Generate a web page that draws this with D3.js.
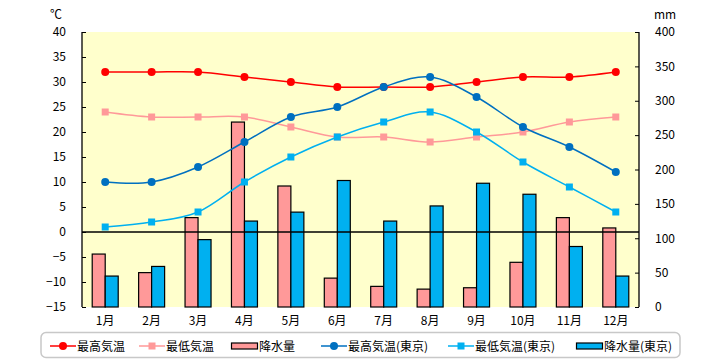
<!DOCTYPE html>
<html>
<head>
<meta charset="utf-8">
<script src="https://cdn.jsdelivr.net/npm/d3@7"></script>
<style>
  html, body { margin: 0; padding: 0; background: #ffffff; }
  svg { display: block; }
  text { font-family: "Noto Sans CJK JP", "DejaVu Sans", sans-serif; font-size: 12px; fill: #000; }
</style>
</head>
<body>
<svg id="chart" width="720" height="360"></svg>
<script>
const months = ["1月","2月","3月","4月","5月","6月","7月","8月","9月","10月","11月","12月"];
const maxTemp = [32, 32, 32, 31, 30, 29, 29, 29, 30, 31, 31, 32];
const minTemp = [24, 23, 23, 23, 21, 19, 19, 18, 19, 20, 22, 23];
const precip = [77, 50, 130, 269, 176, 42, 30, 26, 28, 65, 130, 115];
const maxTempTokyo = [10, 10, 13, 18, 23, 25, 29, 31, 27, 21, 17, 12];
const minTempTokyo = [1, 2, 4, 10, 15, 19, 22, 24, 20, 14, 9, 4];
const precipTokyo = [45, 59, 98, 125, 138, 184, 125, 147, 180, 164, 88, 45];
const tempTicks = [-15, -10, -5, 0, 5, 10, 15, 20, 25, 30, 35, 40];
const precipTicks = [0, 50, 100, 150, 200, 250, 300, 350, 400];
const legendLabels = ["最高気温", "最低気温", "降水量", "最高気温(東京)", "最低気温(東京)", "降水量(東京)"];

const svg = d3.select("#chart");
const L = 82, R = 639, T = 32, B = 307;

const x = d3.scaleBand().domain(months).range([L, R]).paddingInner(0.44).paddingOuter(0.22);
const xc = d => x(d) + x.bandwidth() / 2;
const x1 = d3.scaleBand().domain(["local", "tokyo"]).range([0, x.bandwidth()]);
const yT = d3.scaleLinear().domain([-15, 40]).range([B, T]);
const yP = d3.scaleLinear().domain([0, 400]).range([B, T]);

// plot background
svg.append("rect").attr("x", L).attr("y", T).attr("width", R - L).attr("height", B - T).attr("fill", "#ffffcc");

// bars
const barData = [
  { key: "local", vals: precip, color: "#ff9999" },
  { key: "tokyo", vals: precipTokyo, color: "#00b0f0" }
];
barData.forEach(s => {
  svg.append("g").selectAll("rect").data(months).join("rect")
    .attr("x", (m) => x(m) + x1(s.key))
    .attr("y", (m, i) => yP(s.vals[i]))
    .attr("width", x1.bandwidth())
    .attr("height", (m, i) => yP(0) - yP(s.vals[i]))
    .attr("fill", s.color)
    .attr("stroke", "#000")
    .attr("stroke-width", 1.2);
});

// zero line
svg.append("line").attr("x1", L).attr("x2", R).attr("y1", yT(0)).attr("y2", yT(0))
  .attr("stroke", "#000").attr("stroke-width", 1.3);

// lines
const lineSeries = [
  { vals: maxTemp, color: "#ff0000", marker: "circle" },
  { vals: minTemp, color: "#ff9999", marker: "square" },
  { vals: maxTempTokyo, color: "#0070c0", marker: "circle" },
  { vals: minTempTokyo, color: "#00b0f0", marker: "square" }
];
const line = d3.line().x((d, i) => xc(months[i])).y(d => yT(d)).curve(d3.curveCardinal.tension(0));
lineSeries.forEach(s => {
  svg.append("path").datum(s.vals).attr("d", line).attr("fill", "none")
    .attr("stroke", s.color).attr("stroke-width", 1.5);
  const g = svg.append("g");
  if (s.marker === "circle") {
    g.selectAll("circle").data(s.vals).join("circle")
      .attr("cx", (d, i) => xc(months[i])).attr("cy", d => yT(d)).attr("r", 4)
      .attr("fill", s.color);
  } else {
    g.selectAll("rect").data(s.vals).join("rect")
      .attr("x", (d, i) => xc(months[i]) - 3.5).attr("y", d => yT(d) - 3.5)
      .attr("width", 7).attr("height", 7).attr("fill", s.color);
  }
});

// axes
const leftAxis = d3.axisLeft(yT).tickValues(tempTicks).tickSize(-4).tickPadding(16).tickFormat(d => d < 0 ? "\u2212" + Math.abs(d) : d);
const gl = svg.append("g").attr("transform", `translate(${L},0)`).call(leftAxis);
gl.select(".domain").attr("stroke", "#000").attr("stroke-width", 1.3).attr("d", `M0,${T}V${B}`);
gl.selectAll("text").style("font-size", "12px");

const rightAxis = d3.axisRight(yP).tickValues(precipTicks).tickSize(-4).tickPadding(16);
const gr = svg.append("g").attr("transform", `translate(${R},0)`).call(rightAxis);
gr.select(".domain").attr("stroke", "#000").attr("stroke-width", 1.3).attr("d", `M0,${T}V${B}`);
gr.selectAll("text").style("font-size", "12px");

// x labels
svg.append("g").selectAll("text").data(months).join("text")
  .attr("x", d => xc(d)).attr("y", 325).attr("text-anchor", "middle").text(d => d);

// units
svg.append("text").attr("x", 50).attr("y", 19).text("℃");
svg.append("text").attr("x", 654).attr("y", 19).text("mm");

// legend
svg.append("rect").attr("x", 41).attr("y", 332.5).attr("width", 639).attr("height", 25)
  .attr("rx", 5).attr("fill", "#fff").attr("stroke", "#c8c8c8").attr("stroke-width", 1.5);
const legendItems = [
  { type: "line", color: "#ff0000", marker: "circle", x: 50 },
  { type: "line", color: "#ff9999", marker: "square", x: 139 },
  { type: "bar", color: "#ff9999", x: 231 },
  { type: "line", color: "#0070c0", marker: "circle", x: 321 },
  { type: "line", color: "#00b0f0", marker: "square", x: 448 },
  { type: "bar", color: "#00b0f0", x: 576 }
];
const ly = 346;
legendItems.forEach((it, i) => {
  const g = svg.append("g");
  if (it.type === "line") {
    g.append("line").attr("x1", it.x).attr("x2", it.x + 26).attr("y1", ly).attr("y2", ly)
      .attr("stroke", it.color).attr("stroke-width", 1.5);
    if (it.marker === "circle") {
      g.append("circle").attr("cx", it.x + 13).attr("cy", ly).attr("r", 4).attr("fill", it.color);
    } else {
      g.append("rect").attr("x", it.x + 9.5).attr("y", ly - 3.5).attr("width", 7).attr("height", 7).attr("fill", it.color);
    }
    g.append("text").attr("x", it.x + 27).attr("y", ly + 4.5).text(legendLabels[i]);
  } else {
    g.append("rect").attr("x", it.x + 0.5).attr("y", ly - 3).attr("width", 26).attr("height", 6)
      .attr("fill", it.color).attr("stroke", "#000").attr("stroke-width", 1.2);
    g.append("text").attr("x", it.x + 28).attr("y", ly + 4.5).text(legendLabels[i]);
  }
});
</script>
</body>
</html>
